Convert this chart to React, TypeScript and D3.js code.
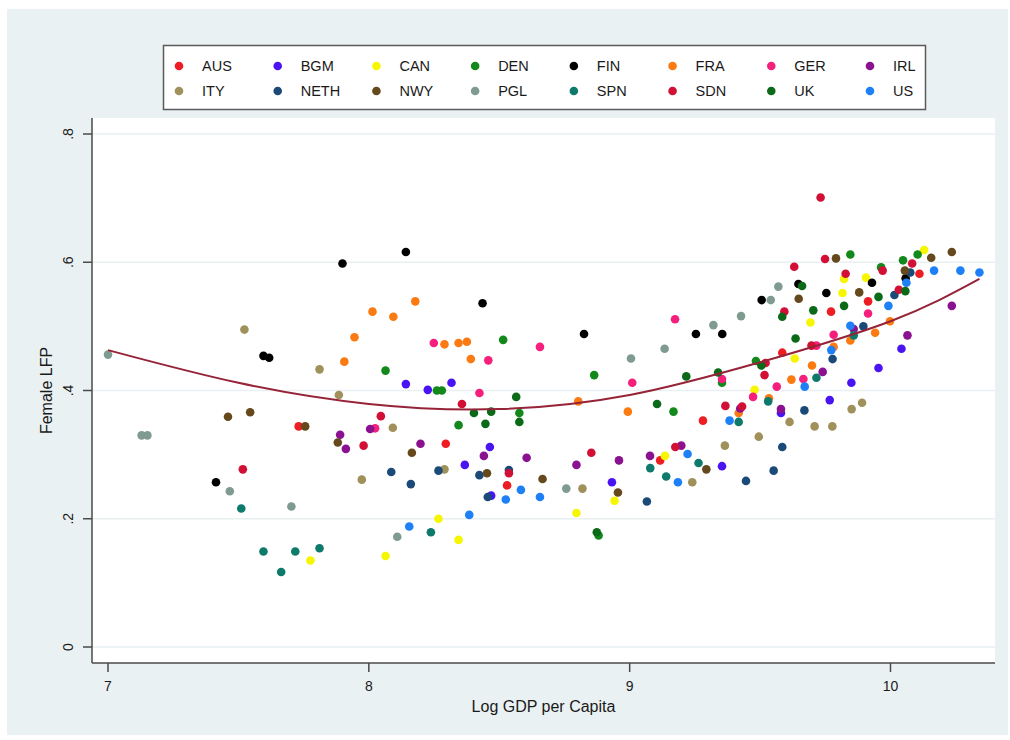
import * as d3 from "d3";

// country codes in legend order (two rows of eight)
const countries = ["AUS", "BGM", "CAN", "DEN", "FIN", "FRA", "GER", "IRL", "ITY", "NETH", "NWY", "PGL", "SPN", "SDN", "UK", "US"];
const countryColors = [
  "#ee1d23", "#4a14f2", "#f6f600", "#13891c", "#000000", "#fb7a12", "#f51f7c", "#8a1190",
  "#a0915a", "#1b4a78", "#65491c", "#7f9b90", "#0d7a6b", "#d20f34", "#0b6a18", "#1d80f6",
];

// [log GDP per capita, female LFP]
const aus = [[7.731, 0.344], [8.295, 0.317], [8.53, 0.252], [9.117, 0.291], [9.281, 0.353], [9.585, 0.459], [9.772, 0.523], [9.914, 0.539], [10.111, 0.582]];
const bgm = [[8.142, 0.41], [8.226, 0.401], [8.317, 0.412], [8.368, 0.284], [8.464, 0.312], [8.469, 0.236], [8.932, 0.257], [9.354, 0.282], [9.58, 0.365], [9.767, 0.385], [9.85, 0.412], [9.954, 0.435], [10.042, 0.465]];
const can = [[7.776, 0.135], [8.064, 0.142], [8.267, 0.2], [8.344, 0.167], [8.796, 0.209], [8.942, 0.228], [9.135, 0.298], [9.479, 0.401], [9.633, 0.45], [9.693, 0.506], [9.816, 0.552], [9.822, 0.574], [9.906, 0.576], [10.129, 0.619]];
const den = [[8.064, 0.431], [8.261, 0.4], [8.28, 0.4], [8.344, 0.346], [8.515, 0.479], [8.577, 0.365], [8.864, 0.424], [8.881, 0.174], [9.168, 0.367], [9.354, 0.412], [9.484, 0.446], [9.846, 0.612], [9.964, 0.592], [10.048, 0.603], [10.104, 0.612]];
const fin = [[7.414, 0.257], [7.596, 0.454], [7.618, 0.451], [7.899, 0.598], [8.142, 0.616], [8.436, 0.536], [8.825, 0.488], [9.254, 0.488], [9.355, 0.488], [9.506, 0.541], [9.647, 0.566], [9.754, 0.552], [9.929, 0.568], [10.058, 0.575]];
const fra = [[7.906, 0.445], [7.945, 0.483], [8.014, 0.523], [8.094, 0.515], [8.178, 0.539], [8.29, 0.472], [8.344, 0.474], [8.376, 0.476], [8.391, 0.449], [8.803, 0.383], [8.993, 0.367], [9.418, 0.365], [9.534, 0.388], [9.62, 0.417], [9.699, 0.439], [9.782, 0.468], [9.846, 0.478], [9.941, 0.49], [9.998, 0.508]];
const ger = [[8.024, 0.341], [8.249, 0.474], [8.424, 0.396], [8.458, 0.447], [8.656, 0.468], [9.01, 0.412], [9.174, 0.511], [9.354, 0.418], [9.473, 0.39], [9.564, 0.406], [9.666, 0.418], [9.716, 0.47], [9.782, 0.487], [9.914, 0.52]];
const irl = [[7.89, 0.331], [7.912, 0.309], [8.005, 0.34], [8.198, 0.317], [8.441, 0.298], [8.605, 0.295], [8.796, 0.284], [8.959, 0.291], [9.078, 0.298], [9.198, 0.314], [9.424, 0.372], [9.58, 0.371], [9.74, 0.429], [9.859, 0.496], [10.065, 0.486], [10.235, 0.532]];
const ity = [[7.523, 0.495], [7.811, 0.433], [7.885, 0.393], [7.973, 0.261], [8.092, 0.342], [8.29, 0.277], [8.819, 0.247], [9.24, 0.257], [9.365, 0.314], [9.495, 0.328], [9.613, 0.351], [9.709, 0.344], [9.777, 0.344], [9.851, 0.371], [9.891, 0.381]];
const neth = [[8.086, 0.273], [8.161, 0.254], [8.267, 0.275], [8.424, 0.268], [8.456, 0.234], [8.537, 0.276], [9.066, 0.227], [9.446, 0.259], [9.552, 0.275], [9.585, 0.312], [9.67, 0.369], [9.778, 0.449], [9.896, 0.5], [10.015, 0.549], [10.076, 0.584]];
const nwy = [[7.46, 0.359], [7.545, 0.366], [7.756, 0.344], [7.881, 0.319], [8.165, 0.303], [8.453, 0.271], [8.666, 0.262], [8.955, 0.241], [9.294, 0.277], [9.648, 0.543], [9.791, 0.606], [9.88, 0.553], [10.055, 0.587], [10.156, 0.607], [10.235, 0.616]];
const pgl = [[7.0, 0.456], [7.129, 0.33], [7.151, 0.33], [7.467, 0.243], [7.703, 0.219], [8.109, 0.172], [8.757, 0.247], [9.005, 0.45], [9.134, 0.465], [9.321, 0.502], [9.427, 0.516], [9.541, 0.541], [9.57, 0.562]];
const spn = [[7.511, 0.216], [7.596, 0.149], [7.664, 0.117], [7.718, 0.149], [7.811, 0.154], [8.238, 0.179], [9.079, 0.279], [9.14, 0.266], [9.264, 0.287], [9.418, 0.351], [9.531, 0.383], [9.716, 0.42], [9.859, 0.486]];
const sdn = [[7.517, 0.277], [7.98, 0.314], [8.046, 0.36], [8.357, 0.379], [8.537, 0.271], [8.853, 0.303], [9.175, 0.312], [9.367, 0.376], [9.431, 0.375], [9.517, 0.424], [9.521, 0.443], [9.593, 0.523], [9.631, 0.593], [9.697, 0.47], [9.732, 0.701], [9.749, 0.605], [9.828, 0.582], [9.97, 0.587], [10.032, 0.557], [10.083, 0.598]];
const uk = [[8.403, 0.365], [8.447, 0.348], [8.469, 0.367], [8.565, 0.39], [8.577, 0.351], [8.874, 0.179], [9.105, 0.379], [9.217, 0.422], [9.339, 0.428], [9.505, 0.439], [9.585, 0.515], [9.636, 0.481], [9.661, 0.563], [9.704, 0.525], [9.822, 0.532], [9.954, 0.546], [10.057, 0.555]];
const us = [[8.155, 0.188], [8.385, 0.206], [8.525, 0.23], [8.583, 0.245], [8.656, 0.234], [9.185, 0.257], [9.222, 0.301], [9.383, 0.353], [9.671, 0.406], [9.773, 0.463], [9.846, 0.501], [9.992, 0.532], [10.061, 0.568], [10.167, 0.587], [10.268, 0.587], [10.341, 0.584]];

const seriesPoints = [aus, bgm, can, den, fin, fra, ger, irl, ity, neth, nwy, pgl, spn, sdn, uk, us];

// fitted values of the smooth line
const fitX = [7, 7.5, 8, 8.5, 9, 9.5, 10, 10.341];
const fitY = [0.463, 0.412, 0.379, 0.371, 0.393, 0.444, 0.508, 0.574];

const xTicks = [7, 8, 9, 10];
const yTicks = [0, 0.2, 0.4, 0.6, 0.8];

const FONT = "'Liberation Sans', Arial, Helvetica, sans-serif";

export default function App() {
  const plot = { left: 92, right: 995, top: 118, bottom: 663 };

  const x = d3.scaleLinear().domain([7, 10]).range([108, 890.5]);
  const y = d3.scaleLinear().domain([0, 0.8]).range([647, 134]);

  const fitLine = d3
    .line<number>()
    .x((d) => x(fitX[d]))
    .y((d) => y(fitY[d]))
    .curve(d3.curveNatural);

  const fmtY = (d: number) => (d === 0 ? "0" : d3.format(".1f")(d).replace(/^0/, ""));

  // legend columns
  const legendX = d3.scalePoint<number>().domain(d3.range(8)).range([179, 870]);
  const legendY = [66, 91];

  return (
    <svg
      width={1010}
      height={740}
      style={{ position: "absolute", left: 0, top: 0, display: "block" }}
      fontFamily={FONT}
    >
      <rect x={0} y={0} width={1010} height={740} fill="#ffffff" />
      <rect x={7} y={9} width={1001} height={726} fill="#eaf1f3" />

      {/* legend */}
      <rect x={163.5} y={45.5} width={762} height={64} fill="#ffffff" stroke="#5a5a5a" strokeWidth={1.5} />
      {countries.map((c, i) => {
        const col = i % 8;
        const row = Math.floor(i / 8);
        const cx = legendX(col) as number;
        return (
          <g key={c}>
            <circle cx={cx} cy={legendY[row]} r={4.3} fill={countryColors[i]} />
            <text x={cx + 23} y={legendY[row] + 5} fontSize={14.5} fill="#1a1a1a">
              {c}
            </text>
          </g>
        );
      })}

      {/* plot region */}
      <rect x={plot.left} y={plot.top} width={plot.right - plot.left} height={plot.bottom - plot.top} fill="#ffffff" />
      {yTicks.map((t) => (
        <line key={t} x1={plot.left} x2={plot.right} y1={y(t)} y2={y(t)} stroke="#e9f0f2" strokeWidth={1.6} />
      ))}

      {/* axes */}
      <line x1={plot.left} x2={plot.left} y1={plot.top} y2={plot.bottom} stroke="#4a4a4a" strokeWidth={1.5} />
      <line x1={plot.left} x2={plot.right} y1={plot.bottom} y2={plot.bottom} stroke="#4a4a4a" strokeWidth={1.5} />
      {yTicks.map((t) => (
        <g key={t}>
          <line x1={plot.left - 9} x2={plot.left} y1={y(t)} y2={y(t)} stroke="#4a4a4a" strokeWidth={1.5} />
          <text
            transform={`translate(${73},${y(t)}) rotate(-90)`}
            textAnchor="middle"
            fontSize={14}
            fill="#1a1a1a"
          >
            {fmtY(t)}
          </text>
        </g>
      ))}
      {xTicks.map((t) => (
        <g key={t}>
          <line x1={x(t)} x2={x(t)} y1={plot.bottom} y2={plot.bottom + 9} stroke="#4a4a4a" strokeWidth={1.5} />
          <text x={x(t)} y={691} textAnchor="middle" fontSize={14} fill="#1a1a1a">
            {t}
          </text>
        </g>
      ))}
      <text
        transform={`translate(${52},${(plot.top + plot.bottom) / 2}) rotate(-90)`}
        textAnchor="middle"
        fontSize={16}
        fill="#1a1a1a"
      >
        Female LFP
      </text>
      <text x={(plot.left + plot.right) / 2} y={712} textAnchor="middle" fontSize={16} fill="#1a1a1a">
        Log GDP per Capita
      </text>

      {/* points */}
      {seriesPoints.map((pts, i) => (
        <g key={countries[i]} fill={countryColors[i]}>
          {pts.map((d, j) => (
            <circle key={j} cx={x(d[0])} cy={y(d[1])} r={4.3} />
          ))}
        </g>
      ))}

      {/* fitted line */}
      <path d={fitLine(d3.range(fitX.length)) || ""} fill="none" stroke="#962338" strokeWidth={2} />
    </svg>
  );
}
